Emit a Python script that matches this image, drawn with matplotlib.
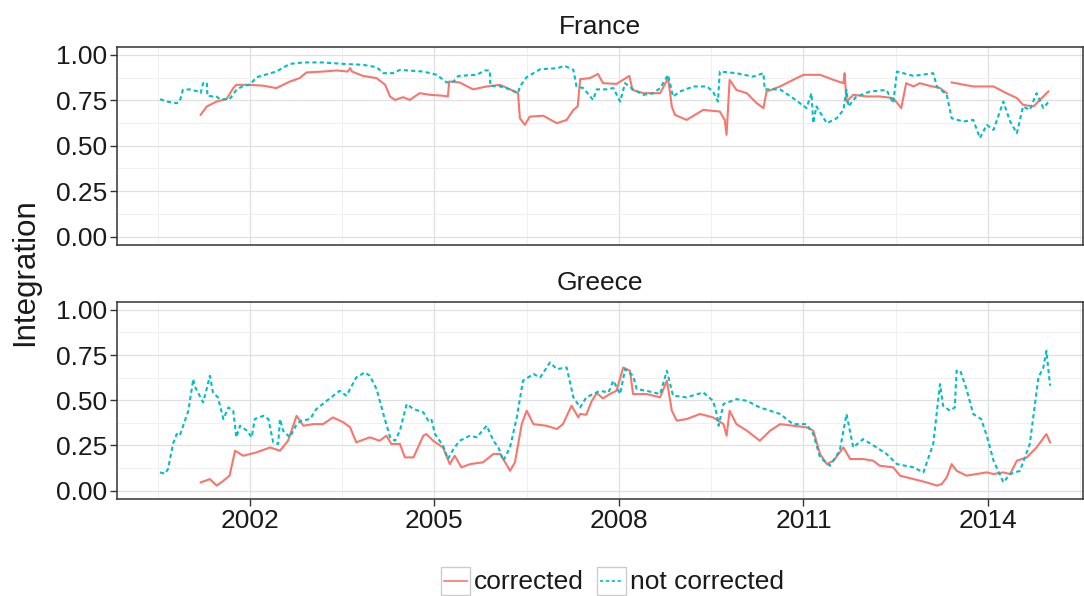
import matplotlib
matplotlib.use("Agg")
import matplotlib.pyplot as plt
import numpy as np
from matplotlib.patches import Rectangle
from matplotlib.lines import Line2D

plt.rcParams['font.family'] = ['Liberation Sans', 'DejaVu Sans']

# values: (decimal year, integration)
fr_corrected = [
    (2001.20, 0.670), (2001.30, 0.716), (2001.46, 0.743), (2001.62, 0.756), (2001.73, 0.817),
    (2001.78, 0.835), (2002.00, 0.835), (2002.22, 0.830), (2002.43, 0.817), (2002.65, 0.853),
    (2002.81, 0.872), (2002.92, 0.903), (2003.19, 0.908), (2003.41, 0.914), (2003.59, 0.908),
    (2003.63, 0.927), (2003.66, 0.908), (2003.84, 0.884), (2004.06, 0.872), (2004.20, 0.835),
    (2004.28, 0.770), (2004.36, 0.752), (2004.49, 0.767), (2004.60, 0.752), (2004.76, 0.789),
    (2004.93, 0.780), (2005.14, 0.775), (2005.22, 0.771), (2005.24, 0.853), (2005.41, 0.848),
    (2005.63, 0.810), (2005.85, 0.826), (2006.07, 0.835), (2006.23, 0.810), (2006.36, 0.789),
    (2006.39, 0.651), (2006.47, 0.615), (2006.55, 0.660), (2006.77, 0.665), (2006.99, 0.624),
    (2007.15, 0.642), (2007.26, 0.697), (2007.33, 0.716), (2007.37, 0.866), (2007.53, 0.872),
    (2007.66, 0.895), (2007.74, 0.844), (2007.96, 0.840), (2008.17, 0.884), (2008.22, 0.807),
    (2008.40, 0.789), (2008.67, 0.789), (2008.80, 0.872), (2008.86, 0.716), (2008.91, 0.670),
    (2009.10, 0.642), (2009.37, 0.697), (2009.64, 0.688), (2009.72, 0.642), (2009.75, 0.560),
    (2009.80, 0.862), (2009.91, 0.807), (2010.08, 0.789), (2010.24, 0.734), (2010.35, 0.707),
    (2010.40, 0.798), (2010.62, 0.826), (2010.83, 0.862), (2011.00, 0.890), (2011.27, 0.890),
    (2011.49, 0.862), (2011.65, 0.844), (2011.67, 0.899), (2011.70, 0.743), (2011.81, 0.780),
    (2012.03, 0.771), (2012.24, 0.771), (2012.46, 0.762), (2012.59, 0.707), (2012.67, 0.844),
    (2012.79, 0.826), (2012.89, 0.844), (2013.06, 0.829), (2013.22, 0.817), (2013.33, 0.789),
    (2013.37, np.nan),
    (2013.41, 0.848), (2013.76, 0.826), (2014.09, 0.826), (2014.30, 0.789), (2014.47, 0.762),
    (2014.57, 0.725), (2014.74, 0.716), (2014.90, 0.771), (2014.98, 0.798),
]

fr_not_corrected = [
    (2000.54, 0.756), (2000.65, 0.743), (2000.81, 0.734), (2000.86, 0.743), (2000.91, 0.807),
    (2001.02, 0.810), (2001.14, 0.800), (2001.20, 0.789), (2001.24, 0.844), (2001.30, 0.848),
    (2001.31, 0.774), (2001.46, 0.770), (2001.51, 0.756), (2001.67, 0.756), (2001.78, 0.807),
    (2001.89, 0.829), (2002.00, 0.835), (2002.11, 0.877), (2002.43, 0.908), (2002.65, 0.950),
    (2002.87, 0.958), (2003.19, 0.958), (2003.52, 0.950), (2003.84, 0.945), (2004.06, 0.932),
    (2004.17, 0.899), (2004.33, 0.899), (2004.44, 0.917), (2004.82, 0.908), (2005.04, 0.890),
    (2005.20, 0.848), (2005.31, 0.853), (2005.39, 0.884), (2005.69, 0.890), (2005.82, 0.914),
    (2005.90, 0.914), (2005.91, 0.829), (2006.07, 0.826), (2006.23, 0.810), (2006.36, 0.789),
    (2006.39, 0.826), (2006.50, 0.877), (2006.72, 0.921), (2006.99, 0.926), (2007.12, 0.939),
    (2007.26, 0.917), (2007.31, 0.826), (2007.42, 0.817), (2007.58, 0.752), (2007.64, 0.810),
    (2007.80, 0.810), (2007.91, 0.817), (2008.02, 0.743), (2008.10, 0.844), (2008.23, 0.810),
    (2008.40, 0.780), (2008.56, 0.789), (2008.67, 0.817), (2008.80, 0.890), (2008.88, 0.770),
    (2008.99, 0.798), (2009.21, 0.826), (2009.43, 0.826), (2009.53, 0.798), (2009.61, 0.743),
    (2009.64, 0.908), (2009.91, 0.899), (2010.18, 0.880), (2010.35, 0.899), (2010.37, 0.810),
    (2010.62, 0.810), (2010.83, 0.762), (2011.05, 0.707), (2011.13, 0.789), (2011.16, 0.624),
    (2011.21, 0.716), (2011.38, 0.624), (2011.54, 0.651), (2011.65, 0.697), (2011.70, 0.807),
    (2011.73, 0.716), (2011.86, 0.770), (2012.08, 0.798), (2012.35, 0.807), (2012.46, 0.734),
    (2012.52, 0.908), (2012.79, 0.884), (2013.11, 0.899), (2013.17, 0.826), (2013.33, 0.780),
    (2013.41, 0.651), (2013.60, 0.633), (2013.76, 0.642), (2013.87, 0.542), (2013.98, 0.615),
    (2014.09, 0.587), (2014.25, 0.743), (2014.36, 0.633), (2014.47, 0.569), (2014.57, 0.716),
    (2014.68, 0.697), (2014.79, 0.789), (2014.90, 0.707), (2015.01, 0.752),
]

gr_corrected = [
    (2001.20, 0.046), (2001.35, 0.064), (2001.46, 0.028), (2001.57, 0.055), (2001.67, 0.083),
    (2001.76, 0.221), (2001.89, 0.193), (2002.11, 0.212), (2002.33, 0.239), (2002.49, 0.221),
    (2002.62, 0.276), (2002.76, 0.414), (2002.87, 0.359), (2003.03, 0.368), (2003.19, 0.368),
    (2003.35, 0.405), (2003.52, 0.378), (2003.63, 0.350), (2003.73, 0.267), (2003.95, 0.295),
    (2004.11, 0.276), (2004.22, 0.304), (2004.30, 0.258), (2004.44, 0.258), (2004.52, 0.184),
    (2004.66, 0.184), (2004.82, 0.304), (2004.87, 0.313), (2004.98, 0.276), (2005.14, 0.239),
    (2005.25, 0.147), (2005.33, 0.193), (2005.44, 0.129), (2005.58, 0.147), (2005.79, 0.157),
    (2005.96, 0.203), (2006.07, 0.203), (2006.23, 0.110), (2006.31, 0.157), (2006.42, 0.368),
    (2006.50, 0.442), (2006.61, 0.368), (2006.82, 0.359), (2006.99, 0.341), (2007.09, 0.368),
    (2007.23, 0.470), (2007.34, 0.405), (2007.37, 0.424), (2007.47, 0.420), (2007.55, 0.490),
    (2007.64, 0.540), (2007.74, 0.510), (2007.85, 0.534), (2007.96, 0.552), (2008.07, 0.681),
    (2008.18, 0.663), (2008.23, 0.534), (2008.45, 0.534), (2008.67, 0.516), (2008.78, 0.608),
    (2008.86, 0.442), (2008.94, 0.387), (2009.10, 0.396), (2009.32, 0.424), (2009.53, 0.405),
    (2009.70, 0.368), (2009.75, 0.304), (2009.80, 0.442), (2009.91, 0.368), (2010.08, 0.332),
    (2010.29, 0.276), (2010.46, 0.332), (2010.62, 0.368), (2010.83, 0.359), (2011.05, 0.350),
    (2011.16, 0.332), (2011.27, 0.203), (2011.38, 0.147), (2011.49, 0.166), (2011.65, 0.239),
    (2011.76, 0.175), (2011.97, 0.175), (2012.13, 0.166), (2012.24, 0.138), (2012.46, 0.129),
    (2012.57, 0.083), (2012.79, 0.064), (2013.00, 0.046), (2013.17, 0.028), (2013.25, 0.037),
    (2013.33, 0.074), (2013.41, 0.147), (2013.49, 0.110), (2013.65, 0.083), (2013.81, 0.092),
    (2013.98, 0.101), (2014.09, 0.092), (2014.25, 0.101), (2014.36, 0.092), (2014.47, 0.166),
    (2014.63, 0.184), (2014.79, 0.239), (2014.95, 0.313), (2015.01, 0.267),
]

gr_not_corrected = [
    (2000.54, 0.101), (2000.62, 0.094), (2000.67, 0.120), (2000.75, 0.258), (2000.81, 0.313),
    (2000.86, 0.304), (2001.00, 0.442), (2001.05, 0.552), (2001.08, 0.617), (2001.10, 0.580),
    (2001.24, 0.488), (2001.29, 0.552), (2001.35, 0.635), (2001.40, 0.543), (2001.48, 0.516),
    (2001.57, 0.396), (2001.65, 0.460), (2001.73, 0.442), (2001.78, 0.295), (2001.84, 0.359),
    (2001.95, 0.332), (2002.03, 0.295), (2002.08, 0.396), (2002.22, 0.414), (2002.30, 0.396),
    (2002.38, 0.267), (2002.46, 0.258), (2002.49, 0.396), (2002.54, 0.332), (2002.65, 0.295),
    (2002.76, 0.368), (2002.84, 0.387), (2002.98, 0.396), (2003.08, 0.451), (2003.25, 0.497),
    (2003.46, 0.552), (2003.57, 0.525), (2003.73, 0.626), (2003.87, 0.654), (2003.95, 0.635),
    (2004.06, 0.562), (2004.17, 0.424), (2004.28, 0.295), (2004.36, 0.276), (2004.44, 0.332),
    (2004.55, 0.479), (2004.66, 0.451), (2004.82, 0.433), (2004.90, 0.387), (2004.95, 0.396),
    (2005.01, 0.313), (2005.14, 0.249), (2005.22, 0.175), (2005.31, 0.230), (2005.41, 0.276),
    (2005.58, 0.304), (2005.69, 0.295), (2005.85, 0.359), (2005.96, 0.276), (2006.04, 0.239),
    (2006.12, 0.166), (2006.23, 0.239), (2006.34, 0.405), (2006.44, 0.608), (2006.61, 0.645),
    (2006.72, 0.626), (2006.88, 0.709), (2006.99, 0.672), (2007.15, 0.681), (2007.26, 0.516),
    (2007.37, 0.460), (2007.47, 0.516), (2007.69, 0.552), (2007.83, 0.543), (2007.91, 0.608),
    (2008.02, 0.534), (2008.10, 0.672), (2008.23, 0.635), (2008.29, 0.562), (2008.45, 0.552),
    (2008.67, 0.534), (2008.78, 0.663), (2008.88, 0.525), (2009.10, 0.516), (2009.37, 0.543),
    (2009.53, 0.497), (2009.59, 0.424), (2009.62, 0.359), (2009.70, 0.479), (2009.91, 0.506),
    (2010.08, 0.497), (2010.29, 0.460), (2010.46, 0.442), (2010.62, 0.424), (2010.83, 0.368),
    (2011.05, 0.368), (2011.16, 0.313), (2011.27, 0.184), (2011.43, 0.138), (2011.59, 0.221),
    (2011.70, 0.424), (2011.81, 0.239), (2011.97, 0.285), (2012.19, 0.239), (2012.35, 0.203),
    (2012.52, 0.147), (2012.79, 0.129), (2012.95, 0.101), (2013.11, 0.258), (2013.22, 0.589),
    (2013.27, 0.470), (2013.38, 0.442), (2013.46, 0.460), (2013.49, 0.663), (2013.55, 0.663),
    (2013.65, 0.562), (2013.76, 0.424), (2013.89, 0.396), (2013.98, 0.304), (2014.09, 0.166),
    (2014.25, 0.046), (2014.36, 0.092), (2014.52, 0.110), (2014.68, 0.258), (2014.82, 0.626),
    (2014.90, 0.681), (2014.95, 0.773), (2015.01, 0.580),
]

countries = ['France', 'Greece']
series = {
    'France': (fr_corrected, fr_not_corrected),
    'Greece': (gr_corrected, gr_not_corrected),
}
x_ticks = [2002, 2005, 2008, 2011, 2014]
y_ticks = [0.0, 0.25, 0.5, 0.75, 1.0]
y_labels = ['0.00', '0.25', '0.50', '0.75', '1.00']

col_c = '#F8766D'
col_nc = '#00BFC4'
txt = '#1a1a1a'

W, H = 1084, 596
fig = plt.figure(figsize=(W / 100, H / 100), dpi=100)

# panel boxes in pixels: (top, bottom)
panels = [(47, 245), (302, 499)]
left_px, right_px = 117, 1083

axes = []
for i, (cname, (top, bot)) in enumerate(zip(countries, panels)):
    ax = fig.add_axes([left_px / W, 1 - bot / H, (right_px - left_px) / W, (bot - top) / H])
    axes.append(ax)
    corr, notcorr = series[cname]
    cx, cy = zip(*corr)
    nx, ny = zip(*notcorr)
    ax.plot(cx, cy, color=col_c, lw=1.5, solid_joinstyle='round', zorder=3)
    ax.plot(nx, ny, color=col_nc, lw=1.5, dashes=(2.0, 1.5), zorder=4)

    ax.set_xlim(1999.84, 2015.545)
    ax.set_ylim(-0.046, 1.043)
    ax.set_xticks(x_ticks)
    ax.set_xticks([2000.5, 2003.5, 2006.5, 2009.5, 2012.5, 2015.5], minor=True)
    ax.set_yticks(y_ticks)
    ax.set_yticklabels(y_labels)
    ax.set_yticks([0.125, 0.375, 0.625, 0.875], minor=True)
    ax.grid(which='major', color='#e0e0e0', lw=0.9, zorder=0)
    ax.grid(which='minor', color='#f0f0f0', lw=0.7, zorder=0)
    ax.set_axisbelow(True)
    for s in ax.spines.values():
        s.set_color('#333333')
        s.set_linewidth(1.1)
    ax.tick_params(axis='both', which='major', direction='out', length=5, width=1.0,
                   color='#333333', labelsize=19, labelcolor=txt, pad=2)
    ax.tick_params(axis='both', which='minor', length=0)
    if i == 0:
        ax.tick_params(axis='x', which='major', length=0, labelbottom=False)
    ax.set_title(cname, fontsize=19, color=txt, pad=9)

fig.text(25 / W, 1 - 272 / H, 'Integration', rotation=90, ha='center', va='center',
         fontsize=22.5, color=txt)

# legend drawn with ggplot-like bordered keys
lax = fig.add_axes([0, 0, 1, 1])
lax.set_xlim(0, W)
lax.set_ylim(H, 0)
lax.axis('off')
ly = 581
for x0, col, dash, label in [(441, col_c, None, 'corrected'), (597, col_nc, (2.0, 1.5), 'not corrected')]:
    lax.add_patch(Rectangle((x0, ly - 14), 29, 28, facecolor='white', edgecolor='#cccccc', lw=1.0))
    ln = Line2D([x0 + 3, x0 + 26], [ly, ly], color=col, lw=1.2)
    if dash:
        ln.set_dashes(dash)
    lax.add_line(ln)
    lax.text(x0 + 33, ly + 1, label, ha='left', va='center', fontsize=19, color=txt)

fig.savefig('out.png', dpi=100)
